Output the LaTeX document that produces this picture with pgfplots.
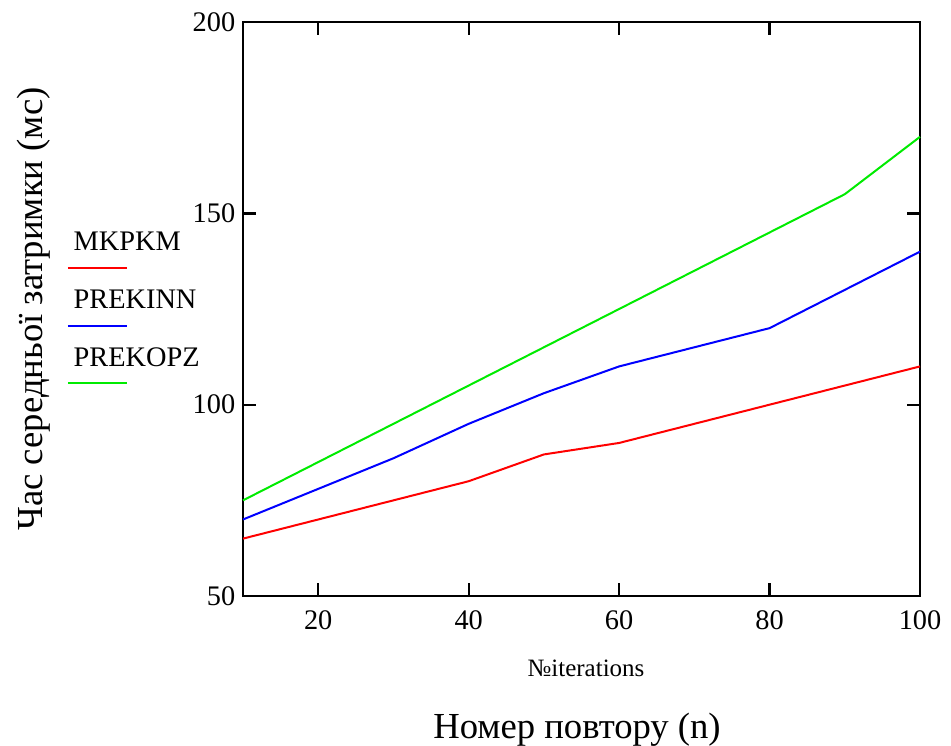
\documentclass[border=0pt]{standalone}
\usepackage{fontspec}
\setmainfont{Liberation Serif}
\usepackage{pgfplots}
\pgfplotsset{compat=1.18}
\definecolor{McRed}{RGB}{255,0,0}
\definecolor{McBlue}{RGB}{0,0,255}
\definecolor{McGreen}{RGB}{0,235,0}

\begin{document}
\begin{tikzpicture}
% page size fixed to the reference proportions (0.3pt per pixel)
\path[use as bounding box] (-72.9pt,-44.7pt) rectangle (212.4pt,178.8pt);
\begin{axis}[
  at={(0,0)}, anchor=south west, scale only axis,
  width=203.1pt, height=172.2pt,
  xmin=10, xmax=100, ymin=50, ymax=200,
  xtick={20,40,60,80,100}, ytick={50,100,150,200},
  tick align=inside, major tick length=4pt,
  axis line style={line width=0.7pt},
  every tick/.style={black, line width=0.7pt},
  tick label style={font=\fontsize{8.5}{10}\selectfont},
  xticklabel style={yshift=-0.8pt},
  yticklabel style={xshift=1.2pt},
  /pgf/number format/assume math mode=true,
  clip=false]
\addplot[McRed, line width=0.6pt] coordinates {
  (10,65) (20,70) (30,75) (40,80) (50,87) (60,90) (70,95) (80,100) (90,105) (100,110)};
\addplot[McBlue, line width=0.6pt] coordinates {
  (10,70) (20,78) (30,86) (40,95) (50,103) (60,110) (70,115) (80,120) (90,130) (100,140)};
\addplot[McGreen, line width=0.6pt] coordinates {
  (10,75) (20,85) (30,95) (40,105) (50,115) (60,125) (70,135) (80,145) (90,155) (100,170)};
\end{axis}
% legend, text above its line as in the reference
\foreach \c/\t/\yb/\yl in {McRed/MKPKM/103.8/98.4, McBlue/PREKINN/86.4/81.0, McGreen/PREKOPZ/69.0/63.9}{
  \node[anchor=base west, inner sep=0, font=\fontsize{8.5}{10}\selectfont] at (-51pt,\yb pt) {\t};
  \draw[\c, line width=0.6pt] (-52.5pt,\yl pt) -- (-34.8pt,\yl pt);
}
% axis titles
\node[rotate=90, anchor=base, inner sep=0, font=\fontsize{11}{13}\selectfont] at (-60pt,86.1pt) {Час середньої затримки (мс)};
\node[anchor=center, inner sep=0, font=\fontsize{7.5}{9}\selectfont] at (102.9pt,-21.6pt) {№iterations};
\node[anchor=base, inner sep=0, font=\fontsize{11}{13}\selectfont] at (100.2pt,-42.6pt) {Номер повтору (n)};
\end{tikzpicture}
\end{document}
